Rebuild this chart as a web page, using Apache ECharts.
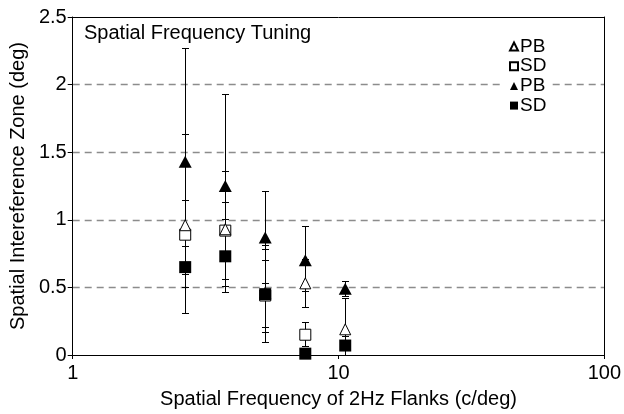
<!DOCTYPE html>
<html>
<head>
<meta charset="utf-8">
<style>
  html, body { margin: 0; padding: 0; background: #fff; }
  #chart { width: 624px; height: 414px; }
</style>
<script src="https://cdn.jsdelivr.net/npm/echarts@6/dist/echarts.min.js"></script>
</head>
<body>
<div id="chart"></div>
<script>
// Spatial frequency of the 2 Hz flanks (c/deg)
const freqs = [2.65, 3.75, 5.3, 7.5, 10.6];

// PB, open triangles: mean and error-bar ends
const pbOpen     = [0.96, 0.93, 0.46, 0.53, 0.19];
const pbOpenLow  = [0.31, 0.51, 0.17, 0.35, 0.0];
const pbOpenHigh = [1.63, 1.36, 0.78, 0.71, 0.415];

// SD, open squares
const sdOpen     = [0.89, 0.92, 0.44, 0.15, null];
const sdOpenLow  = [0.64, 0.71, 0.20, 0.06, null];
const sdOpenHigh = [1.14, 1.13, 0.70, 0.24, null];

// PB, filled triangles
const pbFilled     = [1.43, 1.25, 0.87, 0.70, 0.49];
const pbFilledLow  = [0.595, 0.56, 0.53, 0.47, 0.435];
const pbFilledHigh = [2.27, 1.93, 1.21, 0.95, 0.545];

// SD, filled squares
const sdFilled     = [0.65, 0.73, 0.45, 0.01, 0.07];
const sdFilledLow  = [0.50, 0.46, 0.09, 0.0, 0.0];
const sdFilledHigh = [0.80, 1.00, 0.81, 0.02, 0.14];

const yTicks = [0, 0.5, 1, 1.5, 2, 2.5];
const xTicks = [1, 10, 100];

const FONT = '"Liberation Sans", Arial, sans-serif';

function points(ys) {
  return freqs.map((f, i) => ys[i] == null ? null : [f, ys[i]]).filter(Boolean);
}
function bars(lo, hi) {
  return freqs.map((f, i) => lo[i] == null ? null : [f, lo[i], hi[i]]).filter(Boolean);
}

const crisp = v => Math.round(v - 0.5) + 0.5;

// vertical whisker with a short cap at each end
function renderErrorBar(params, api) {
  const x = api.value(0);
  const top = api.coord([x, api.value(2)]);
  const bot = api.coord([x, api.value(1)]);
  const cx = crisp(top[0]);
  const ty = crisp(top[1]);
  const by = crisp(bot[1]);
  const w = 3.5;
  const st = { stroke: '#000', lineWidth: 1 };
  return {
    type: 'group',
    children: [
      { type: 'line', shape: { x1: cx, y1: ty, x2: cx, y2: by }, style: st },
      { type: 'line', shape: { x1: cx - w, y1: ty, x2: cx + w, y2: ty }, style: st },
      { type: 'line', shape: { x1: cx - w, y1: by, x2: cx + w, y2: by }, style: st }
    ]
  };
}

function errorSeries(lo, hi) {
  return {
    type: 'custom',
    renderItem: renderErrorBar,
    data: bars(lo, hi),
    encode: { x: 0, y: [1, 2] },
    z: 1,
    silent: true
  };
}

const openStyle = { color: '#fff', borderColor: '#000', borderWidth: 1, opacity: 1 };
const filledStyle = { color: '#000', borderColor: '#000', borderWidth: 0, opacity: 1 };

const legendLabel = {
  'PB open': 'PB', 'SD open': 'SD', 'PB filled': 'PB', 'SD filled': 'SD'
};

const chart = echarts.init(document.getElementById('chart'), null, { renderer: 'canvas' });

chart.setOption({
  animation: false,
  backgroundColor: '#fff',
  textStyle: { fontFamily: FONT },
  title: {
    text: 'Spatial Frequency Tuning',
    left: 84,
    top: 23,
    padding: 0,
    textStyle: { fontFamily: FONT, fontSize: 20, fontWeight: 'normal', color: '#000' }
  },
  legend: {
    orient: 'vertical',
    left: 503,
    top: 36,
    itemWidth: 8,
    itemHeight: 8,
    itemGap: 0.7,
    padding: [1, 3, 1, 6],
    backgroundColor: '#fff',
    data: [
      { name: 'PB open', icon: 'triangle' },
      { name: 'SD open', icon: 'rect' },
      { name: 'PB filled', icon: 'triangle' },
      { name: 'SD filled', icon: 'rect' }
    ],
    formatter: name => legendLabel[name],
    textStyle: { fontFamily: FONT, fontSize: 19, lineHeight: 18, color: '#000', padding: [0, 0, 0, -3] },
    selectedMode: false
  },
  grid: { left: 67, right: 18, top: 17, bottom: 57, containLabel: false },
  xAxis: [
    {
      type: 'log',
      logBase: 10,
      min: xTicks[0],
      max: xTicks[xTicks.length - 1],
      position: 'bottom',
      name: 'Spatial Frequency of 2Hz Flanks (c/deg)',
      nameLocation: 'middle',
      nameGap: 34,
      nameTextStyle: { fontFamily: FONT, fontSize: 20, color: '#000' },
      axisLine: { show: true, onZero: false, lineStyle: { color: '#000', width: 1 } },
      axisTick: { show: true, length: 4, lineStyle: { color: '#000' } },
      minorTick: { show: false },
      axisLabel: { fontFamily: FONT, fontSize: 20, color: '#000', margin: 8 },
      splitLine: { show: false }
    },
    {
      type: 'log',
      logBase: 10,
      min: xTicks[0],
      max: xTicks[xTicks.length - 1],
      position: 'top',
      z: 3,
      axisLine: { show: true, onZero: false, lineStyle: { color: '#000', width: 1 } },
      axisTick: { show: false },
      axisLabel: { show: false },
      splitLine: { show: false }
    }
  ],
  yAxis: [
    {
      type: 'value',
      min: yTicks[0],
      max: yTicks[yTicks.length - 1],
      interval: 0.5,
      name: 'Spatial Intereference Zone (deg)',
      nameLocation: 'middle',
      nameGap: 32,
      nameTextStyle: { fontFamily: FONT, fontSize: 20, color: '#000' },
      axisLine: { show: true, onZero: false, lineStyle: { color: '#000', width: 1 } },
      axisTick: { show: true, length: 5, lineStyle: { color: '#000' } },
      axisLabel: { fontFamily: FONT, fontSize: 20, color: '#000', margin: 6 },
      splitLine: {
        show: true, showMinLine: false, showMaxLine: false,
        lineStyle: { color: '#8c8c8c', width: 1.3, type: [7, 5] }
      }
    },
    {
      type: 'value',
      min: yTicks[0],
      max: yTicks[yTicks.length - 1],
      position: 'right',
      z: 3,
      axisLine: { show: true, onZero: false, lineStyle: { color: '#000', width: 1 } },
      axisTick: { show: false },
      axisLabel: { show: false },
      splitLine: { show: false }
    }
  ],
  series: [
    errorSeries(pbOpenLow, pbOpenHigh),
    errorSeries(sdOpenLow, sdOpenHigh),
    errorSeries(pbFilledLow, pbFilledHigh),
    errorSeries(sdFilledLow, sdFilledHigh),
    {
      name: 'SD open', type: 'scatter', symbol: 'rect', symbolSize: 11,
      itemStyle: openStyle, data: points(sdOpen), z: 2
    },
    {
      name: 'PB open', type: 'scatter', symbol: 'triangle', symbolSize: [11, 11],
      itemStyle: openStyle, data: points(pbOpen), z: 3
    },
    {
      name: 'PB filled', type: 'scatter', symbol: 'triangle', symbolSize: [13, 12],
      itemStyle: filledStyle, data: points(pbFilled), z: 4
    },
    {
      name: 'SD filled', type: 'scatter', symbol: 'rect', symbolSize: 12,
      itemStyle: filledStyle, data: points(sdFilled), z: 5
    }
  ]
});
</script>
</body>
</html>
